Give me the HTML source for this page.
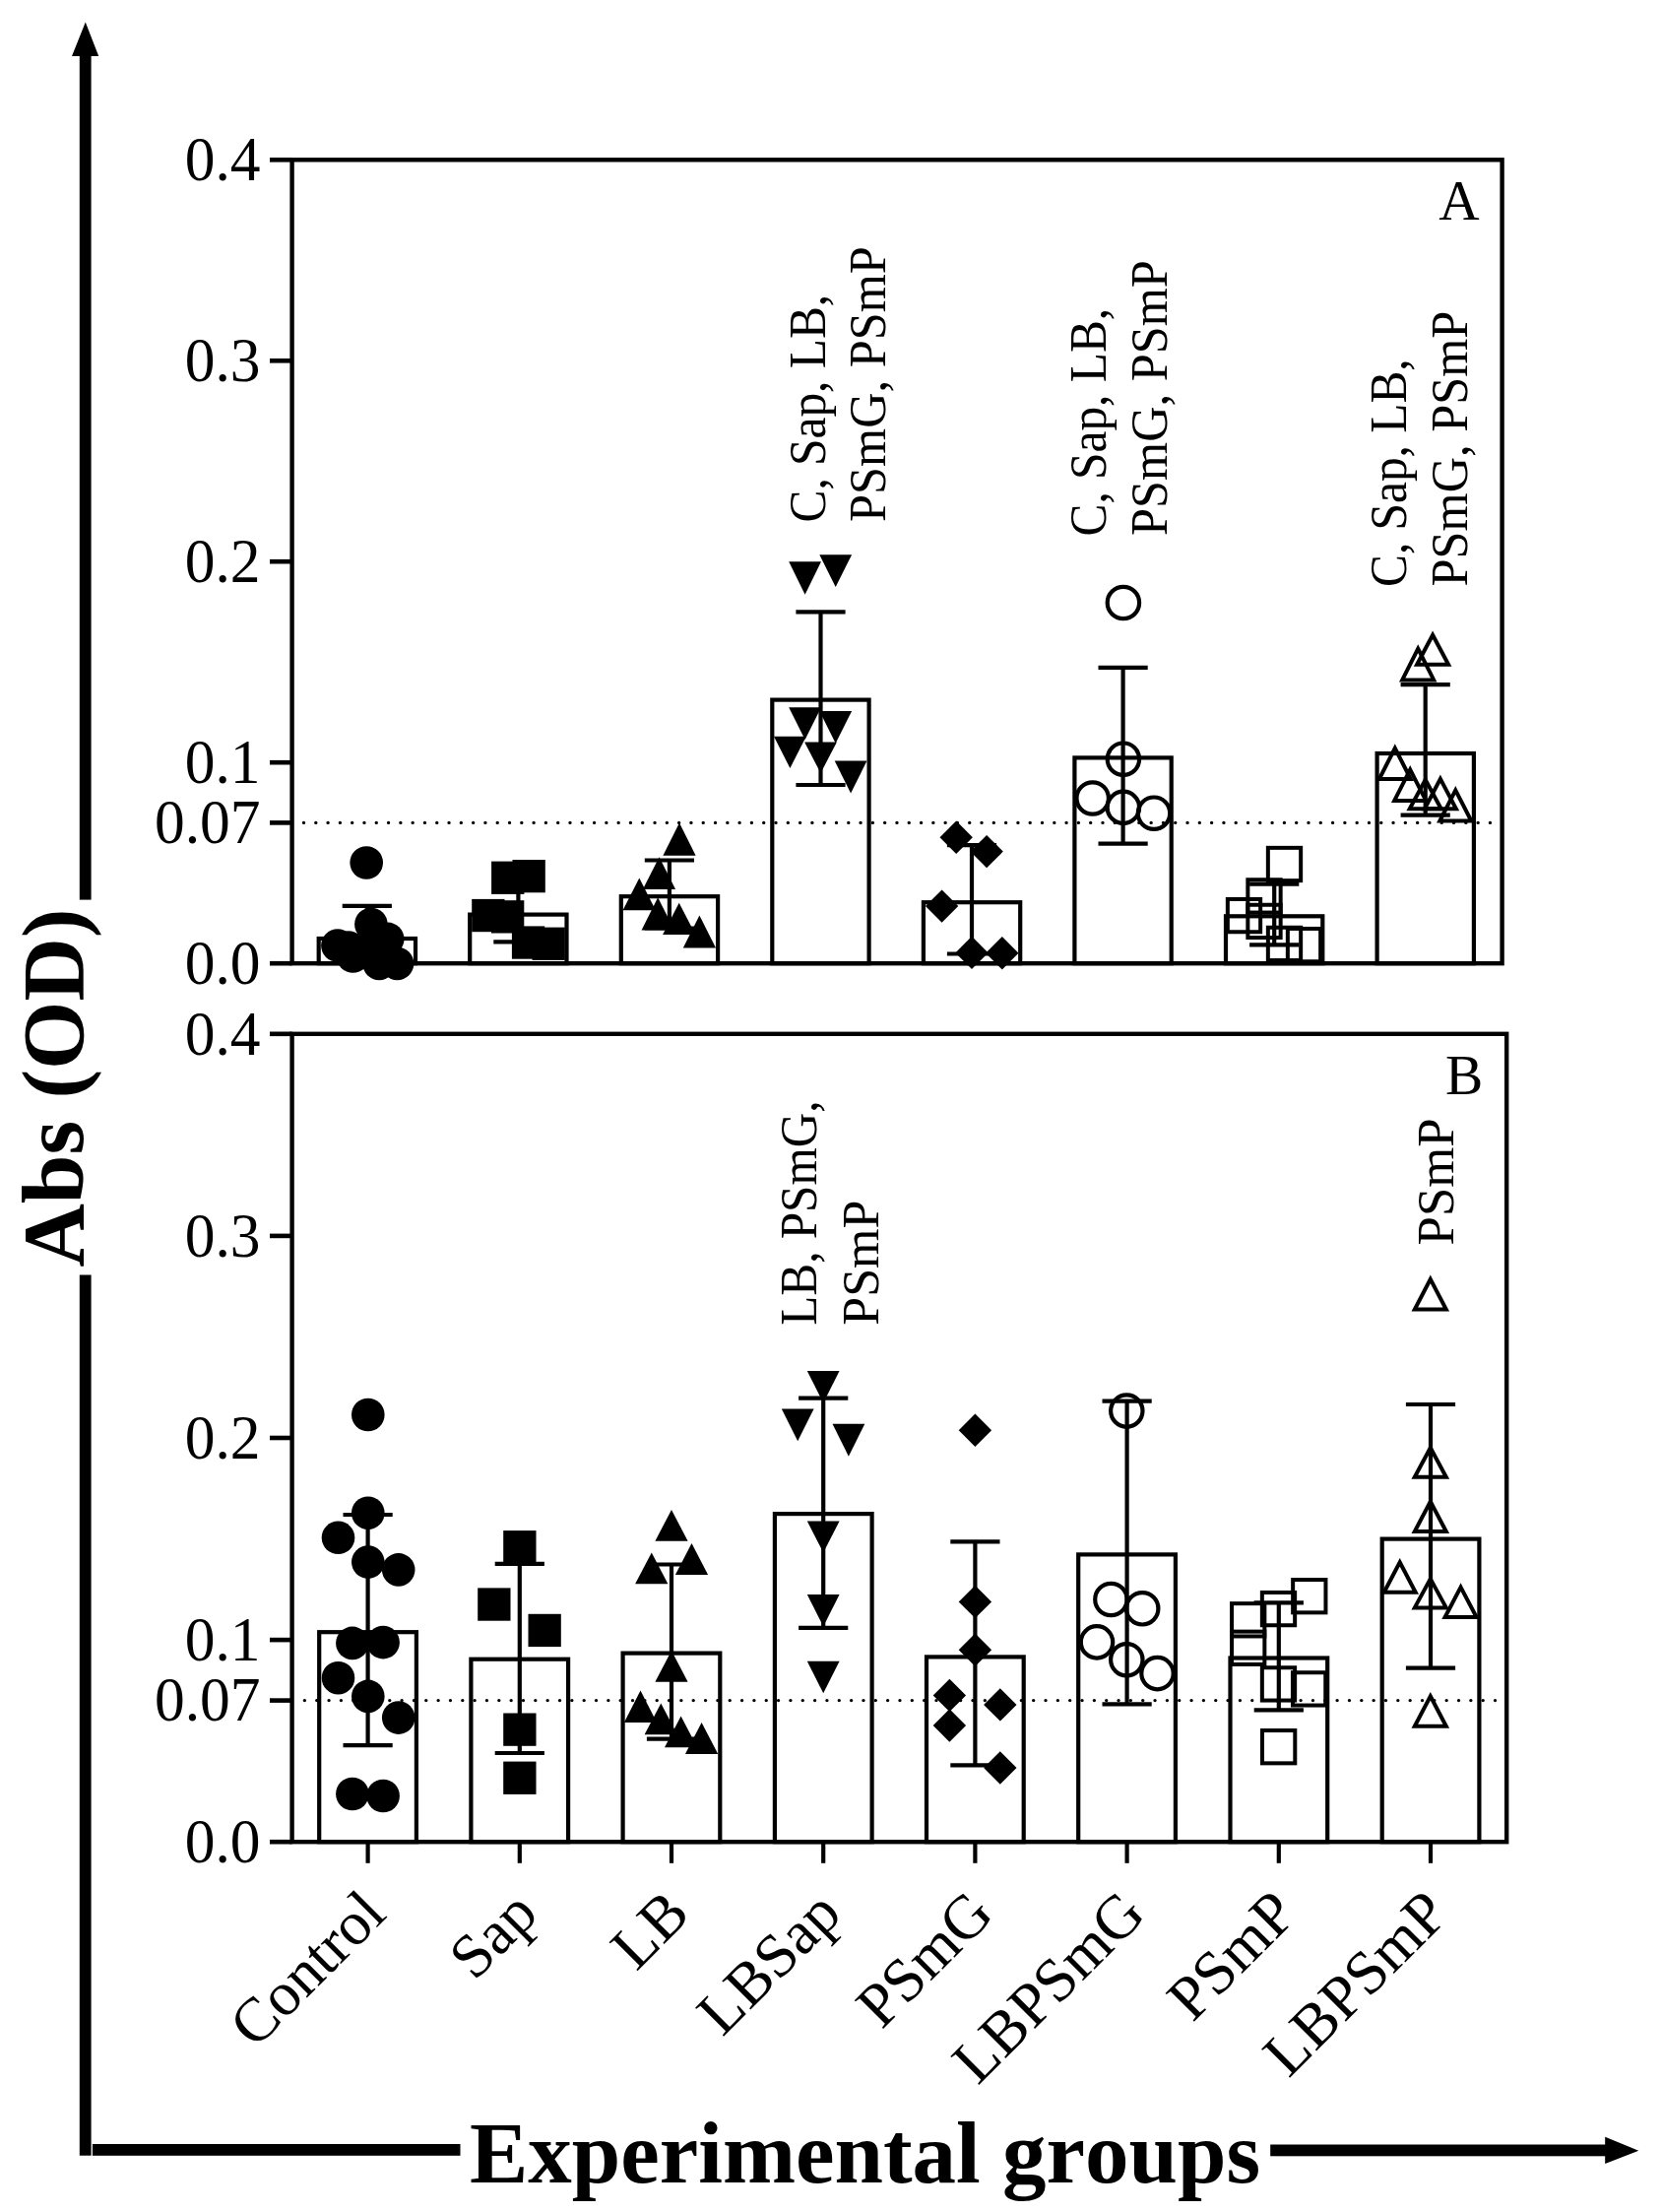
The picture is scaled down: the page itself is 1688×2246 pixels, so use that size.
<!DOCTYPE html>
<html lang="en"><head><meta charset="utf-8"><title>Abs (OD) by experimental groups</title>
<style>html,body{margin:0;padding:0;background:#fff}svg{display:block}text{font-family:"Liberation Serif",serif;fill:#000;stroke:none;font-kerning:none;font-variant-ligatures:none}</style>
</head><body>
<svg width="1688" height="2246" viewBox="0 0 1688 2246" stroke="#000" fill="none" shape-rendering="auto">
<rect x="0" y="0" width="1688" height="2246" fill="#fff" stroke="none"/>
<g id="outer-arrows" stroke="none" fill="#000">
<rect x="80.8" y="55" width="11.8" height="858.6"/>
<rect x="80.8" y="1294.5" width="11.8" height="894.2"/>
<polygon points="86.8,22.6 100.2,57 73,57"/>
<rect x="93.9" y="2177" width="373.6" height="11.8"/>
<rect x="1290.2" y="2177.5" width="342" height="11.8"/>
<polygon points="1664.3,2183.7 1630.2,2169.8 1630.2,2197"/>
</g>
<text x="0.0" y="0.0" font-size="88" text-anchor="start" font-weight="bold" transform="translate(83.8,1286.5) rotate(-90)" textLength="364" lengthAdjust="spacingAndGlyphs">Abs (OD)</text>
<text x="477.0" y="2215.6" font-size="88" text-anchor="start" font-weight="bold" textLength="803" lengthAdjust="spacingAndGlyphs">Experimental groups</text>
<g id="panel-A">
<rect x="296.6" y="162.3" width="1229.0" height="815.9" stroke-width="4.4"/>
<line x1="274.0" y1="162.3" x2="296.6" y2="162.3" stroke-width="4.6" />
<text transform="translate(264.6,183.0) scale(1,1.037)" font-size="61.5" text-anchor="end">0.4</text>
<line x1="274.0" y1="366.3" x2="296.6" y2="366.3" stroke-width="4.6" />
<text transform="translate(264.6,387.0) scale(1,1.037)" font-size="61.5" text-anchor="end">0.3</text>
<line x1="274.0" y1="570.2" x2="296.6" y2="570.2" stroke-width="4.6" />
<text transform="translate(264.6,591.0) scale(1,1.037)" font-size="61.5" text-anchor="end">0.2</text>
<line x1="274.0" y1="774.2" x2="296.6" y2="774.2" stroke-width="4.6" />
<text transform="translate(264.6,794.9) scale(1,1.037)" font-size="61.5" text-anchor="end">0.1</text>
<line x1="274.0" y1="835.4" x2="296.6" y2="835.4" stroke-width="4.6" />
<text transform="translate(264.6,856.1) scale(1,1.037)" font-size="61.5" text-anchor="end">0.07</text>
<line x1="274.0" y1="978.2" x2="296.6" y2="978.2" stroke-width="4.6" />
<text transform="translate(264.6,998.9) scale(1,1.037)" font-size="61.5" text-anchor="end">0.0</text>
<line x1="308.5" y1="835.4" x2="1521.6" y2="835.4" stroke-width="3.4" stroke-linecap="round" stroke-dasharray="0 12.295"/>
<text x="1461.3" y="223.3" font-size="57.3" text-anchor="start" font-weight="normal" >A</text>
</g>
<g id="panel-B">
<rect x="296.6" y="1049.8" width="1233.6" height="820.4" stroke-width="4.4"/>
<line x1="274.0" y1="1049.8" x2="296.6" y2="1049.8" stroke-width="4.6" />
<text transform="translate(264.6,1070.5) scale(1,1.037)" font-size="61.5" text-anchor="end">0.4</text>
<line x1="274.0" y1="1254.9" x2="296.6" y2="1254.9" stroke-width="4.6" />
<text transform="translate(264.6,1275.6) scale(1,1.037)" font-size="61.5" text-anchor="end">0.3</text>
<line x1="274.0" y1="1460.0" x2="296.6" y2="1460.0" stroke-width="4.6" />
<text transform="translate(264.6,1480.7) scale(1,1.037)" font-size="61.5" text-anchor="end">0.2</text>
<line x1="274.0" y1="1665.1" x2="296.6" y2="1665.1" stroke-width="4.6" />
<text transform="translate(264.6,1685.8) scale(1,1.037)" font-size="61.5" text-anchor="end">0.1</text>
<line x1="274.0" y1="1726.6" x2="296.6" y2="1726.6" stroke-width="4.6" />
<text transform="translate(264.6,1747.3) scale(1,1.037)" font-size="61.5" text-anchor="end">0.07</text>
<line x1="274.0" y1="1870.2" x2="296.6" y2="1870.2" stroke-width="4.6" />
<text transform="translate(264.6,1890.9) scale(1,1.037)" font-size="61.5" text-anchor="end">0.0</text>
<line x1="309.4" y1="1726.6" x2="1526.2" y2="1726.6" stroke-width="3.4" stroke-linecap="round" stroke-dasharray="0 12.338"/>
<text x="1467.9" y="1110.8" font-size="57.3" text-anchor="start" font-weight="normal" >B</text>
</g>
<g id="points-A">
<rect x="323.7" y="953.0" width="98.3" height="25.2" fill="none" stroke-width="4.2"/>
<rect x="477.2" y="928.6" width="98.3" height="49.6" fill="none" stroke-width="4.2"/>
<rect x="630.8" y="910.2" width="98.3" height="68.0" fill="none" stroke-width="4.2"/>
<rect x="784.3" y="710.6" width="98.3" height="267.6" fill="none" stroke-width="4.2"/>
<rect x="937.9" y="916.2" width="98.3" height="62.0" fill="none" stroke-width="4.2"/>
<rect x="1091.4" y="769.4" width="98.3" height="208.8" fill="none" stroke-width="4.2"/>
<rect x="1245.0" y="930.3" width="98.3" height="47.9" fill="none" stroke-width="4.2"/>
<rect x="1398.6" y="765.0" width="98.3" height="213.2" fill="none" stroke-width="4.2"/>
<line x1="372.8" y1="919.8" x2="372.8" y2="981.7" stroke-width="4.2" />
<line x1="347.7" y1="919.8" x2="397.9" y2="919.8" stroke-width="4.2" />
<line x1="347.7" y1="981.7" x2="397.9" y2="981.7" stroke-width="4.2" />
<line x1="526.4" y1="900.5" x2="526.4" y2="956.4" stroke-width="4.2" />
<line x1="501.3" y1="900.5" x2="551.5" y2="900.5" stroke-width="4.2" />
<line x1="501.3" y1="956.4" x2="551.5" y2="956.4" stroke-width="4.2" />
<line x1="679.9" y1="873.5" x2="679.9" y2="942.5" stroke-width="4.2" />
<line x1="654.8" y1="873.5" x2="705.0" y2="873.5" stroke-width="4.2" />
<line x1="654.8" y1="942.5" x2="705.0" y2="942.5" stroke-width="4.2" />
<line x1="833.5" y1="621.4" x2="833.5" y2="797.0" stroke-width="4.2" />
<line x1="808.4" y1="621.4" x2="858.6" y2="621.4" stroke-width="4.2" />
<line x1="808.4" y1="797.0" x2="858.6" y2="797.0" stroke-width="4.2" />
<line x1="987.0" y1="858.2" x2="987.0" y2="968.5" stroke-width="4.2" />
<line x1="961.9" y1="858.2" x2="1012.1" y2="858.2" stroke-width="4.2" />
<line x1="961.9" y1="968.5" x2="1012.1" y2="968.5" stroke-width="4.2" />
<line x1="1140.6" y1="677.8" x2="1140.6" y2="856.6" stroke-width="4.2" />
<line x1="1115.5" y1="677.8" x2="1165.7" y2="677.8" stroke-width="4.2" />
<line x1="1115.5" y1="856.6" x2="1165.7" y2="856.6" stroke-width="4.2" />
<line x1="1294.2" y1="897.6" x2="1294.2" y2="959.3" stroke-width="4.2" />
<line x1="1269.1" y1="897.6" x2="1319.3" y2="897.6" stroke-width="4.2" />
<line x1="1269.1" y1="959.3" x2="1319.3" y2="959.3" stroke-width="4.2" />
<line x1="1447.7" y1="695.2" x2="1447.7" y2="827.6" stroke-width="4.2" />
<line x1="1422.6" y1="695.2" x2="1472.8" y2="695.2" stroke-width="4.2" />
<line x1="1422.6" y1="827.6" x2="1472.8" y2="827.6" stroke-width="4.2" />
<circle cx="372.2" cy="876.0" r="16.8" fill="#000" stroke="none"/>
<circle cx="376.9" cy="938.5" r="16.8" fill="#000" stroke="none"/>
<circle cx="393.7" cy="953.4" r="16.8" fill="#000" stroke="none"/>
<circle cx="342.9" cy="960.1" r="16.8" fill="#000" stroke="none"/>
<circle cx="353.8" cy="962.0" r="16.8" fill="#000" stroke="none"/>
<circle cx="358.5" cy="971.0" r="16.8" fill="#000" stroke="none"/>
<circle cx="385.1" cy="978.4" r="16.8" fill="#000" stroke="none"/>
<circle cx="403.5" cy="978.4" r="16.8" fill="#000" stroke="none"/>
<circle cx="372.0" cy="962.0" r="16.8" fill="#000" stroke="none"/>
<rect x="499.1" y="874.6" width="33.3" height="33.3" fill="#000" stroke="none"/>
<rect x="520.5" y="873.0" width="33.3" height="33.3" fill="#000" stroke="none"/>
<rect x="479.2" y="912.9" width="33.3" height="33.3" fill="#000" stroke="none"/>
<rect x="499.0" y="914.2" width="33.3" height="33.3" fill="#000" stroke="none"/>
<rect x="519.9" y="940.4" width="33.3" height="33.3" fill="#000" stroke="none"/>
<rect x="540.5" y="941.6" width="33.3" height="33.3" fill="#000" stroke="none"/>
<polygon points="690.0,835.4 706.6,868.7 673.4,868.7" fill="#000" stroke="none"/>
<polygon points="669.5,870.3 686.1,903.1 652.9,903.1" fill="#000" stroke="none"/>
<polygon points="649.3,891.5 665.9,924.3 632.6,924.3" fill="#000" stroke="none"/>
<polygon points="668.2,911.2 684.9,944.6 651.6,944.6" fill="#000" stroke="none"/>
<polygon points="689.7,916.8 706.4,949.1 673.1,949.1" fill="#000" stroke="none"/>
<polygon points="710.4,929.4 727.0,962.5 693.8,962.5" fill="#000" stroke="none"/>
<polygon points="801.2,570.3 834.0,570.3 817.6,603.8" fill="#000" stroke="none"/>
<polygon points="832.3,563.2 865.1,563.2 848.7,596.1" fill="#000" stroke="none"/>
<polygon points="801.2,718.2 834.0,718.2 817.6,751.0" fill="#000" stroke="none"/>
<polygon points="832.3,722.0 865.1,722.0 848.7,754.8" fill="#000" stroke="none"/>
<polygon points="786.0,747.7 818.8,747.7 802.4,780.1" fill="#000" stroke="none"/>
<polygon points="817.1,753.5 849.9,753.5 833.5,785.0" fill="#000" stroke="none"/>
<polygon points="847.7,772.5 880.5,772.5 864.1,805.4" fill="#000" stroke="none"/>
<polygon points="971.2,833.6 987.9,850.3 971.2,867.0 954.5,850.3" fill="#000" stroke="none"/>
<polygon points="1002.1,847.9 1018.8,864.6 1002.1,881.3 985.4,864.6" fill="#000" stroke="none"/>
<polygon points="956.6,903.4 973.3,920.1 956.6,936.8 939.9,920.1" fill="#000" stroke="none"/>
<polygon points="987.0,950.7 1003.7,967.4 987.0,984.1 970.3,967.4" fill="#000" stroke="none"/>
<polygon points="1017.8,951.0 1034.5,967.7 1017.8,984.4 1001.1,967.7" fill="#000" stroke="none"/>
<circle cx="1140.9" cy="612.0" r="16.2" fill="none" stroke-width="4.2"/>
<circle cx="1140.9" cy="770.7" r="16.2" fill="none" stroke-width="4.2"/>
<circle cx="1109.7" cy="810.5" r="16.2" fill="none" stroke-width="4.2"/>
<circle cx="1140.9" cy="819.9" r="16.2" fill="none" stroke-width="4.2"/>
<circle cx="1172.0" cy="825.7" r="16.2" fill="none" stroke-width="4.2"/>
<rect x="1287.85" y="860.85" width="33.3" height="33.3" fill="none" stroke-width="4.0"/>
<rect x="1267.35" y="893.25" width="33.3" height="33.3" fill="none" stroke-width="4.0"/>
<rect x="1267.35" y="918.75" width="33.3" height="33.3" fill="none" stroke-width="4.0"/>
<rect x="1246.85" y="912.95" width="33.3" height="33.3" fill="none" stroke-width="4.0"/>
<rect x="1287.85" y="941.75" width="33.3" height="33.3" fill="none" stroke-width="4.0"/>
<rect x="1307.85" y="942.95" width="33.3" height="33.3" fill="none" stroke-width="4.0"/>
<polygon points="1455.1,644.7 1471.1,674.7 1439.1,674.7" fill="none" stroke-width="4.0" stroke-linejoin="miter"/>
<polygon points="1440.2,658.7 1456.2,690.4 1424.2,690.4" fill="none" stroke-width="4.0" stroke-linejoin="miter"/>
<polygon points="1416.8,759.7 1432.8,791.0 1400.8,791.0" fill="none" stroke-width="4.0" stroke-linejoin="miter"/>
<polygon points="1432.2,781.4 1448.2,812.9 1416.2,812.9" fill="none" stroke-width="4.0" stroke-linejoin="miter"/>
<polygon points="1447.7,791.8 1463.7,821.3 1431.7,821.3" fill="none" stroke-width="4.0" stroke-linejoin="miter"/>
<polygon points="1462.9,790.9 1478.9,821.3 1446.9,821.3" fill="none" stroke-width="4.0" stroke-linejoin="miter"/>
<polygon points="1478.3,802.3 1494.3,833.6 1462.3,833.6" fill="none" stroke-width="4.0" stroke-linejoin="miter"/>
</g>
<g id="points-B">
<rect x="324.2" y="1657.2" width="98.7" height="213.0" fill="none" stroke-width="4.2"/>
<line x1="373.6" y1="1870.2" x2="373.6" y2="1891.8" stroke-width="4.2" />
<rect x="478.4" y="1684.7" width="98.7" height="185.5" fill="none" stroke-width="4.2"/>
<line x1="527.8" y1="1870.2" x2="527.8" y2="1891.8" stroke-width="4.2" />
<rect x="632.6" y="1678.6" width="98.7" height="191.6" fill="none" stroke-width="4.2"/>
<line x1="682.0" y1="1870.2" x2="682.0" y2="1891.8" stroke-width="4.2" />
<rect x="786.9" y="1537.1" width="98.7" height="333.1" fill="none" stroke-width="4.2"/>
<line x1="836.2" y1="1870.2" x2="836.2" y2="1891.8" stroke-width="4.2" />
<rect x="941.0" y="1682.4" width="98.7" height="187.8" fill="none" stroke-width="4.2"/>
<line x1="990.4" y1="1870.2" x2="990.4" y2="1891.8" stroke-width="4.2" />
<rect x="1095.2" y="1578.4" width="98.7" height="291.8" fill="none" stroke-width="4.2"/>
<line x1="1144.6" y1="1870.2" x2="1144.6" y2="1891.8" stroke-width="4.2" />
<rect x="1249.5" y="1683.5" width="98.7" height="186.7" fill="none" stroke-width="4.2"/>
<line x1="1298.8" y1="1870.2" x2="1298.8" y2="1891.8" stroke-width="4.2" />
<rect x="1403.7" y="1562.6" width="98.7" height="307.6" fill="none" stroke-width="4.2"/>
<line x1="1453.0" y1="1870.2" x2="1453.0" y2="1891.8" stroke-width="4.2" />
<line x1="373.6" y1="1538.0" x2="373.6" y2="1772.2" stroke-width="4.2" />
<line x1="348.5" y1="1538.0" x2="398.7" y2="1538.0" stroke-width="4.2" />
<line x1="348.5" y1="1772.2" x2="398.7" y2="1772.2" stroke-width="4.2" />
<line x1="527.8" y1="1587.9" x2="527.8" y2="1780.0" stroke-width="4.2" />
<line x1="502.7" y1="1587.9" x2="552.9" y2="1587.9" stroke-width="4.2" />
<line x1="502.7" y1="1780.0" x2="552.9" y2="1780.0" stroke-width="4.2" />
<line x1="682.0" y1="1588.5" x2="682.0" y2="1765.6" stroke-width="4.2" />
<line x1="656.9" y1="1588.5" x2="707.1" y2="1588.5" stroke-width="4.2" />
<line x1="656.9" y1="1765.6" x2="707.1" y2="1765.6" stroke-width="4.2" />
<line x1="836.2" y1="1419.6" x2="836.2" y2="1652.9" stroke-width="4.2" />
<line x1="811.1" y1="1419.6" x2="861.3" y2="1419.6" stroke-width="4.2" />
<line x1="811.1" y1="1652.9" x2="861.3" y2="1652.9" stroke-width="4.2" />
<line x1="990.4" y1="1565.4" x2="990.4" y2="1792.4" stroke-width="4.2" />
<line x1="965.3" y1="1565.4" x2="1015.5" y2="1565.4" stroke-width="4.2" />
<line x1="965.3" y1="1792.4" x2="1015.5" y2="1792.4" stroke-width="4.2" />
<line x1="1144.6" y1="1422.7" x2="1144.6" y2="1730.3" stroke-width="4.2" />
<line x1="1119.5" y1="1422.7" x2="1169.7" y2="1422.7" stroke-width="4.2" />
<line x1="1119.5" y1="1730.3" x2="1169.7" y2="1730.3" stroke-width="4.2" />
<line x1="1298.8" y1="1627.4" x2="1298.8" y2="1736.3" stroke-width="4.2" />
<line x1="1273.7" y1="1627.4" x2="1323.9" y2="1627.4" stroke-width="4.2" />
<line x1="1273.7" y1="1736.3" x2="1323.9" y2="1736.3" stroke-width="4.2" />
<line x1="1453.0" y1="1426.0" x2="1453.0" y2="1693.7" stroke-width="4.2" />
<line x1="1427.9" y1="1426.0" x2="1478.1" y2="1426.0" stroke-width="4.2" />
<line x1="1427.9" y1="1693.7" x2="1478.1" y2="1693.7" stroke-width="4.2" />
<circle cx="373.8" cy="1436.5" r="16.8" fill="#000" stroke="none"/>
<circle cx="373.8" cy="1536.2" r="16.8" fill="#000" stroke="none"/>
<circle cx="343.5" cy="1561.3" r="16.8" fill="#000" stroke="none"/>
<circle cx="373.8" cy="1586.1" r="16.8" fill="#000" stroke="none"/>
<circle cx="404.7" cy="1593.9" r="16.8" fill="#000" stroke="none"/>
<circle cx="357.9" cy="1668.4" r="16.8" fill="#000" stroke="none"/>
<circle cx="389.1" cy="1667.6" r="16.8" fill="#000" stroke="none"/>
<circle cx="343.5" cy="1703.7" r="16.8" fill="#000" stroke="none"/>
<circle cx="373.8" cy="1722.4" r="16.8" fill="#000" stroke="none"/>
<circle cx="404.7" cy="1744.1" r="16.8" fill="#000" stroke="none"/>
<circle cx="357.9" cy="1821.5" r="16.8" fill="#000" stroke="none"/>
<circle cx="389.1" cy="1823.5" r="16.8" fill="#000" stroke="none"/>
<rect x="511.2" y="1554.1" width="33.3" height="33.3" fill="#000" stroke="none"/>
<rect x="485.2" y="1612.4" width="33.3" height="33.3" fill="#000" stroke="none"/>
<rect x="536.5" y="1638.8" width="33.3" height="33.3" fill="#000" stroke="none"/>
<rect x="511.2" y="1739.5" width="33.3" height="33.3" fill="#000" stroke="none"/>
<rect x="511.2" y="1788.6" width="33.3" height="33.3" fill="#000" stroke="none"/>
<polygon points="682.0,1533.1 698.6,1564.8 665.4,1564.8" fill="#000" stroke="none"/>
<polygon points="661.8,1576.4 678.4,1608.2 645.1,1608.2" fill="#000" stroke="none"/>
<polygon points="702.5,1567.1 719.1,1598.9 685.9,1598.9" fill="#000" stroke="none"/>
<polygon points="682.0,1676.0 698.6,1707.8 665.4,1707.8" fill="#000" stroke="none"/>
<polygon points="650.5,1716.5 667.1,1749.1 633.9,1749.1" fill="#000" stroke="none"/>
<polygon points="671.3,1729.5 687.9,1761.2 654.6,1761.2" fill="#000" stroke="none"/>
<polygon points="691.6,1742.5 708.2,1774.2 675.0,1774.2" fill="#000" stroke="none"/>
<polygon points="712.6,1749.1 729.2,1780.9 696.0,1780.9" fill="#000" stroke="none"/>
<polygon points="819.8,1392.1 852.6,1392.1 836.2,1424.5" fill="#000" stroke="none"/>
<polygon points="793.8,1430.5 826.6,1430.5 810.2,1463.2" fill="#000" stroke="none"/>
<polygon points="845.5,1445.8 878.3,1445.8 861.9,1478.8" fill="#000" stroke="none"/>
<polygon points="819.8,1544.6 852.6,1544.6 836.2,1576.4" fill="#000" stroke="none"/>
<polygon points="819.8,1619.1 852.6,1619.1 836.2,1651.5" fill="#000" stroke="none"/>
<polygon points="819.8,1686.7 852.6,1686.7 836.2,1719.3" fill="#000" stroke="none"/>
<polygon points="990.4,1435.5 1007.1,1452.2 990.4,1468.9 973.7,1452.2" fill="#000" stroke="none"/>
<polygon points="990.4,1609.7 1007.1,1626.4 990.4,1643.1 973.7,1626.4" fill="#000" stroke="none"/>
<polygon points="990.4,1658.5 1007.1,1675.2 990.4,1691.9 973.7,1675.2" fill="#000" stroke="none"/>
<polygon points="964.4,1704.7 981.1,1721.4 964.4,1738.1 947.7,1721.4" fill="#000" stroke="none"/>
<polygon points="1015.8,1714.2 1032.5,1730.9 1015.8,1747.6 999.1,1730.9" fill="#000" stroke="none"/>
<polygon points="964.4,1735.3 981.1,1752.0 964.4,1768.7 947.7,1752.0" fill="#000" stroke="none"/>
<polygon points="1015.8,1778.3 1032.5,1795.0 1015.8,1811.7 999.1,1795.0" fill="#000" stroke="none"/>
<circle cx="1144.3" cy="1432.6" r="16.2" fill="none" stroke-width="4.2"/>
<circle cx="1128.4" cy="1624.0" r="16.2" fill="none" stroke-width="4.2"/>
<circle cx="1160.2" cy="1633.3" r="16.2" fill="none" stroke-width="4.2"/>
<circle cx="1114.0" cy="1667.4" r="16.2" fill="none" stroke-width="4.2"/>
<circle cx="1144.3" cy="1685.3" r="16.2" fill="none" stroke-width="4.2"/>
<circle cx="1175.5" cy="1699.1" r="16.2" fill="none" stroke-width="4.2"/>
<rect x="1313.15" y="1604.05" width="33.3" height="33.3" fill="none" stroke-width="4.0"/>
<rect x="1281.85" y="1616.95" width="33.3" height="33.3" fill="none" stroke-width="4.0"/>
<rect x="1251.05" y="1628.15" width="33.3" height="33.3" fill="none" stroke-width="4.0"/>
<rect x="1251.05" y="1656.65" width="33.3" height="33.3" fill="none" stroke-width="4.0"/>
<rect x="1281.85" y="1693.25" width="33.3" height="33.3" fill="none" stroke-width="4.0"/>
<rect x="1312.95" y="1698.25" width="33.3" height="33.3" fill="none" stroke-width="4.0"/>
<rect x="1282.00" y="1757.05" width="33.3" height="33.3" fill="none" stroke-width="4.0"/>
<polygon points="1452.8,1298.9 1468.8,1329.6 1436.8,1329.6" fill="none" stroke-width="4.0" stroke-linejoin="miter"/>
<polygon points="1452.8,1470.0 1468.8,1499.8 1436.8,1499.8" fill="none" stroke-width="4.0" stroke-linejoin="miter"/>
<polygon points="1452.8,1524.6 1468.8,1555.1 1436.8,1555.1" fill="none" stroke-width="4.0" stroke-linejoin="miter"/>
<polygon points="1421.7,1586.3 1437.7,1616.7 1405.7,1616.7" fill="none" stroke-width="4.0" stroke-linejoin="miter"/>
<polygon points="1452.8,1603.1 1468.8,1632.4 1436.8,1632.4" fill="none" stroke-width="4.0" stroke-linejoin="miter"/>
<polygon points="1483.6,1611.6 1499.6,1642.0 1467.6,1642.0" fill="none" stroke-width="4.0" stroke-linejoin="miter"/>
<polygon points="1452.8,1722.3 1468.8,1752.7 1436.8,1752.7" fill="none" stroke-width="4.0" stroke-linejoin="miter"/>
</g>
<g id="annotations">
<text transform="translate(837.50,528.50) rotate(-90) scale(1,1.0682)" x="-2.02" y="0" font-size="49.34" font-weight="normal" textLength="231.63" lengthAdjust="spacingAndGlyphs">C, Sap, LB,</text>
<text transform="translate(899.00,528.50) rotate(-90) scale(1,1.0471)" x="-1.45" y="0" font-size="50.33" font-weight="normal" textLength="279.77" lengthAdjust="spacingAndGlyphs">PSmG, PSmP</text>
<text transform="translate(1122.50,542.50) rotate(-90) scale(1,1.0682)" x="-2.02" y="0" font-size="49.34" font-weight="normal" textLength="231.63" lengthAdjust="spacingAndGlyphs">C, Sap, LB,</text>
<text transform="translate(1184.50,542.50) rotate(-90) scale(1,1.0471)" x="-1.45" y="0" font-size="50.33" font-weight="normal" textLength="279.77" lengthAdjust="spacingAndGlyphs">PSmG, PSmP</text>
<text transform="translate(1427.70,594.00) rotate(-90) scale(1,1.0682)" x="-2.02" y="0" font-size="49.34" font-weight="normal" textLength="231.63" lengthAdjust="spacingAndGlyphs">C, Sap, LB,</text>
<text transform="translate(1489.60,594.00) rotate(-90) scale(1,1.0471)" x="-1.45" y="0" font-size="50.33" font-weight="normal" textLength="279.77" lengthAdjust="spacingAndGlyphs">PSmG, PSmP</text>
<text transform="translate(829.20,1344.30) rotate(-90) scale(1,1.0710)" x="-1.42" y="0" font-size="49.20" font-weight="normal" textLength="228.32" lengthAdjust="spacingAndGlyphs">LB, PSmG,</text>
<text transform="translate(891.50,1344.30) rotate(-90) scale(1,1.0129)" x="-1.50" y="0" font-size="52.03" font-weight="normal" textLength="127.28" lengthAdjust="spacingAndGlyphs">PSmP</text>
<text transform="translate(1475.70,1262.90) rotate(-90) scale(1,0.9851)" x="-1.52" y="0" font-size="52.79" font-weight="normal" textLength="129.13" lengthAdjust="spacingAndGlyphs">PSmP</text>
</g>
<g id="xlabels">
<text transform="translate(394.4,1945.8) rotate(-45)" font-size="62.7" text-anchor="end">Control</text>
<text transform="translate(548.6,1945.8) rotate(-45)" font-size="62.7" text-anchor="end">Sap</text>
<text transform="translate(702.8,1945.8) rotate(-45)" font-size="62.7" text-anchor="end">LB</text>
<text transform="translate(857.0,1945.8) rotate(-45)" font-size="62.7" text-anchor="end">LBSap</text>
<text transform="translate(1011.2,1945.8) rotate(-45)" font-size="62.7" text-anchor="end">PSmG</text>
<text transform="translate(1165.4,1945.8) rotate(-45)" font-size="62.7" text-anchor="end">LBPSmG</text>
<text transform="translate(1319.6,1945.8) rotate(-45)" font-size="62.7" text-anchor="end">PSmP</text>
<text transform="translate(1473.8,1945.8) rotate(-45)" font-size="62.7" text-anchor="end">LBPSmP</text>
</g>
</svg></body></html>
